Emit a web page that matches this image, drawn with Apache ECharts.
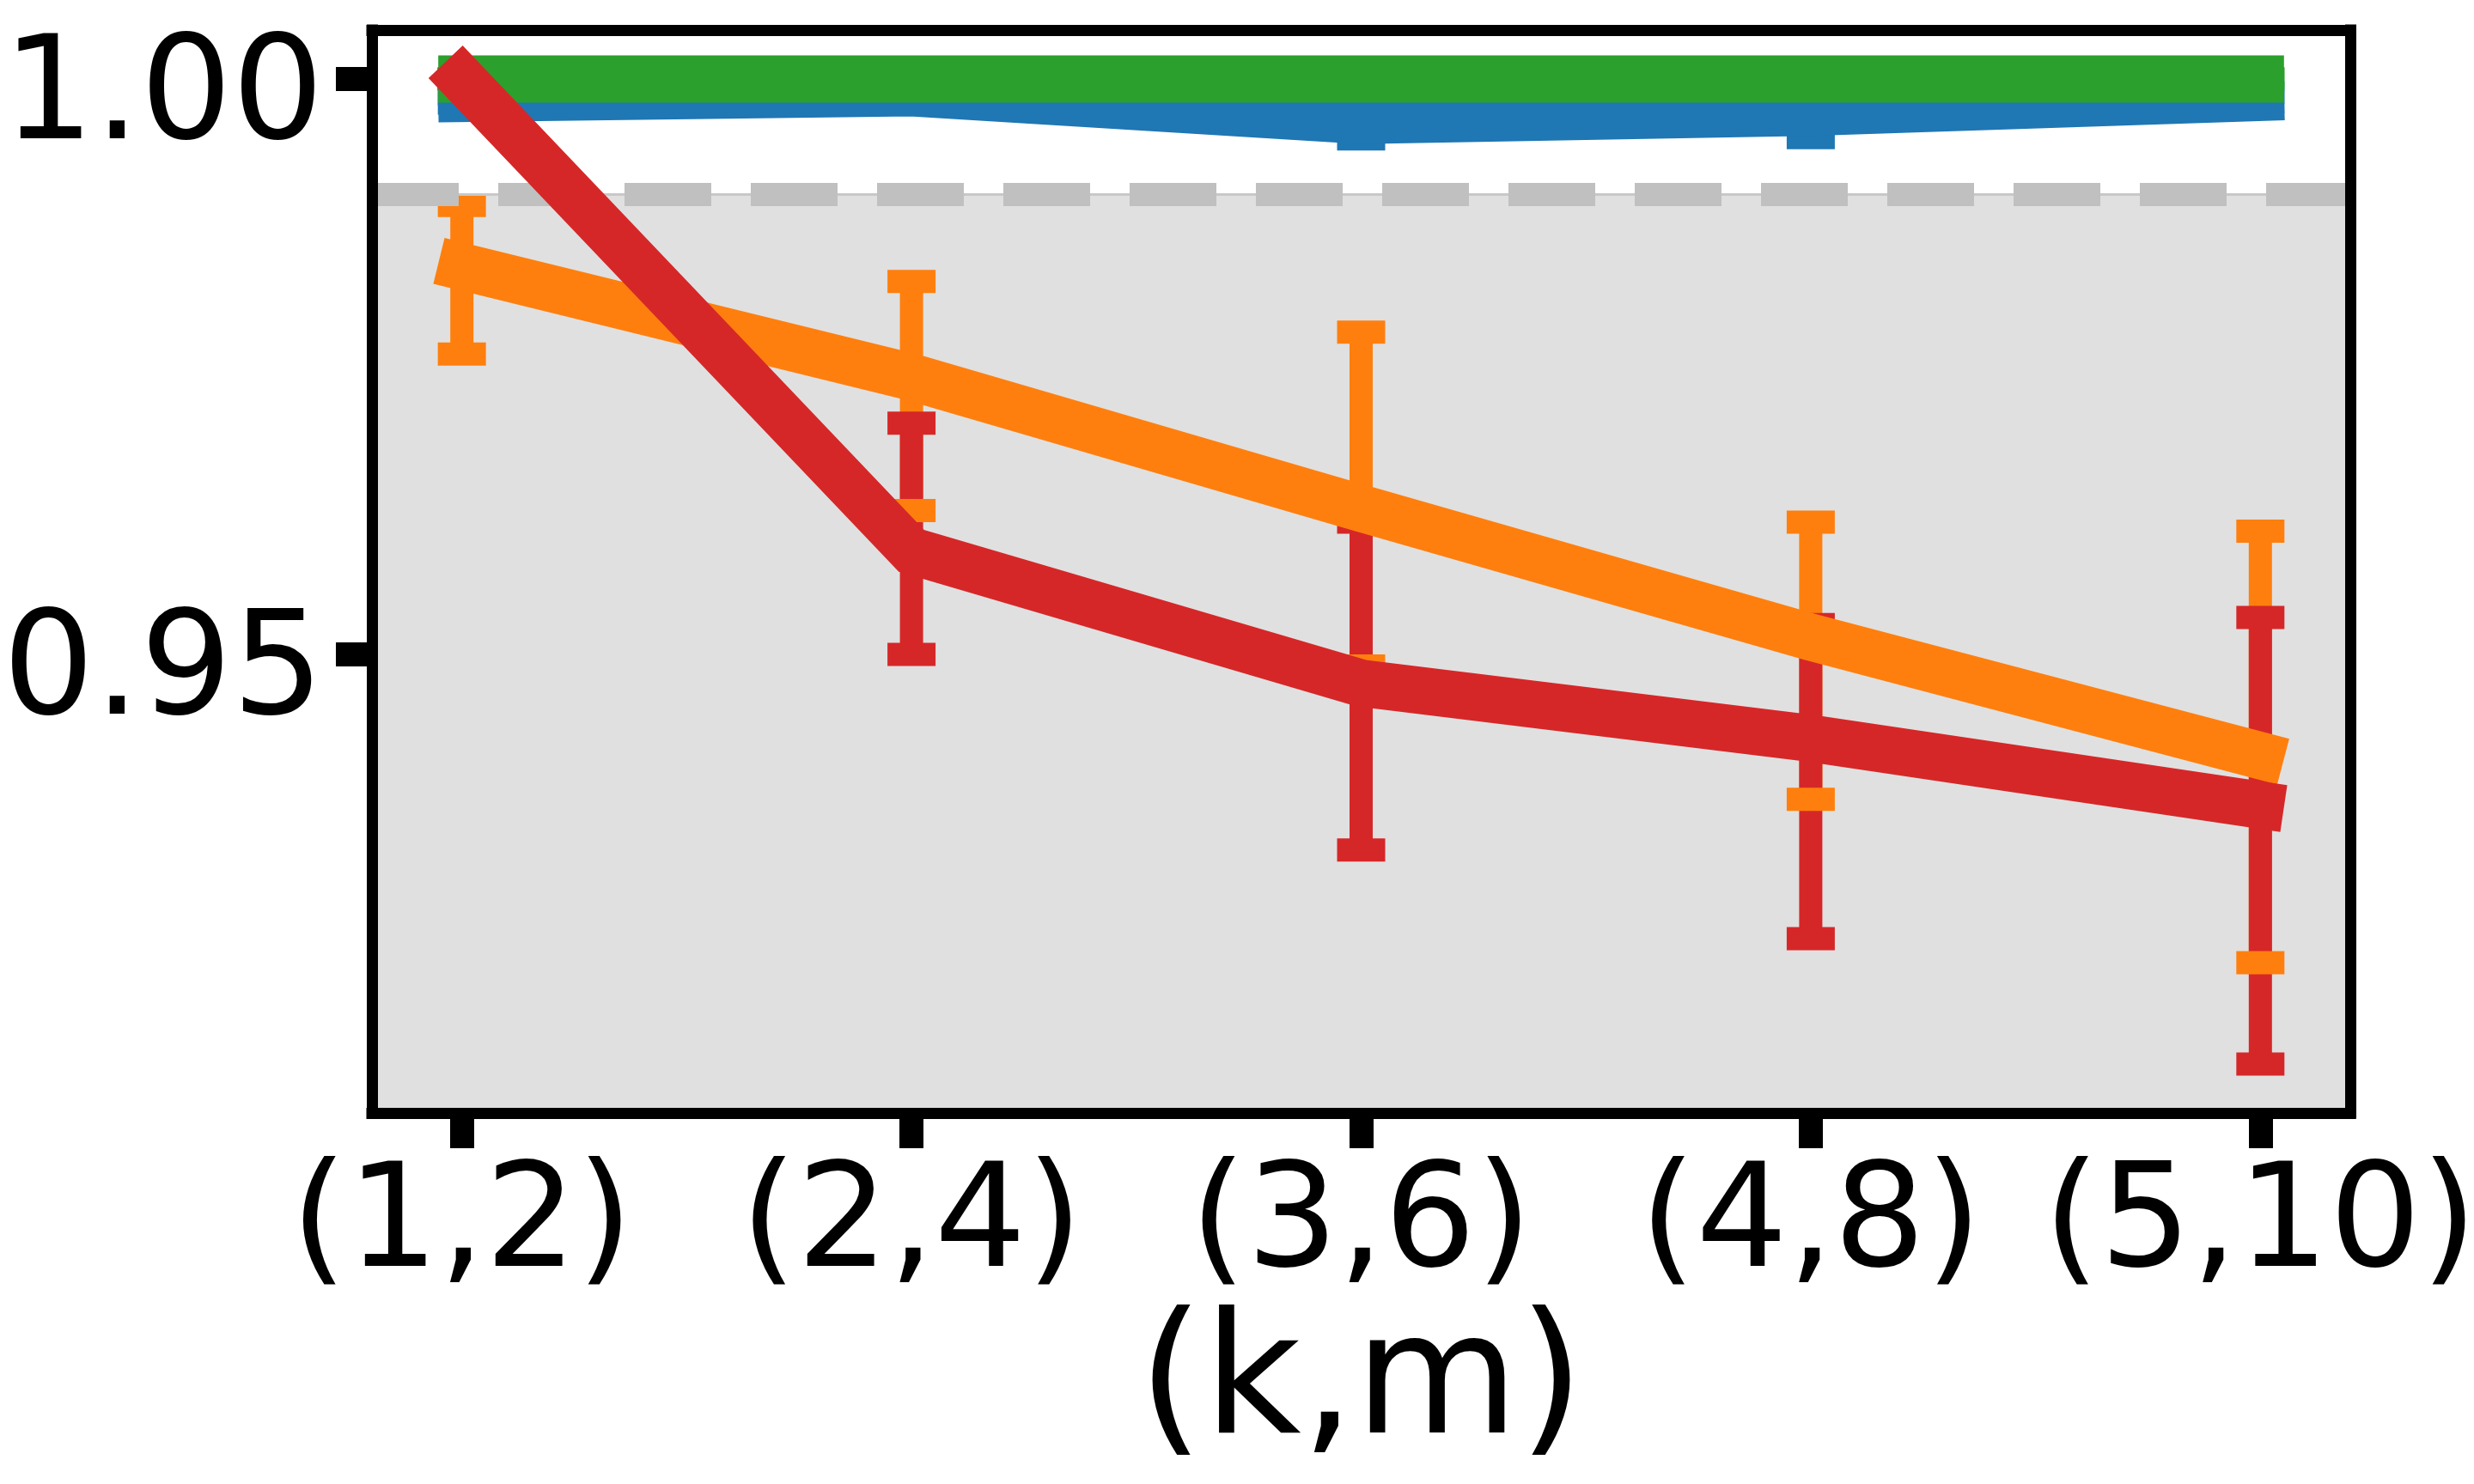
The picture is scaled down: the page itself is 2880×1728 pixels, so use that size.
<!DOCTYPE html>
<html>
<head>
<meta charset="utf-8">
<script src="https://cdn.jsdelivr.net/npm/echarts@6/dist/echarts.min.js"></script>
<style>
html,body{margin:0;padding:0;background:#fff;}
#chart{width:2880px;height:1728px;}
</style>
</head>
<body>
<div id="chart"></div>
<script>
// ---- data ----
const categories = ['(1,2)', '(2,4)', '(3,6)', '(4,8)', '(5,10)'];
const xPositions = [0, 1, 2, 3, 4];
const yTickValues = [0.95, 1.00];
const threshold = 0.99;

const blueMean  = [0.9983, 0.9988, 0.9964, 0.9971, 0.9984];
const blueLow   = [0.9979, 0.9984, 0.9948, 0.9949, 0.9980];
const blueHigh  = [0.9987, 0.9992, 0.9980, 0.9993, 0.9988];

const orangeMean = [0.9837, 0.9741, 0.9627, 0.9515, 0.9412];
const orangeLow  = [0.9761, 0.9625, 0.9490, 0.9374, 0.9232];
const orangeHigh = [0.9890, 0.9824, 0.9780, 0.9615, 0.9607];

const greenMean = [1.0000, 1.0000, 1.0000, 1.0000, 1.0000];
const greenLow  = [1.0000, 1.0000, 1.0000, 1.0000, 1.0000];
const greenHigh = [1.0000, 1.0000, 1.0000, 1.0000, 1.0000];

const redMean = [1.0000, 0.9590, 0.9475, 0.9427, 0.9369];
const redLow  = [1.0000, 0.9500, 0.9330, 0.9253, 0.9144];
const redHigh = [1.0000, 0.9701, 0.9615, 0.9526, 0.9532];

const Y_MIN = 0.91015;
const Y_MAX = 1.00425;
const X_MIN = -0.2;
const X_MAX = 4.2;

// ---- styles ----
const FONT = 'DejaVu Sans';
const LINE_W = 55;
const EBAR_W = 27;
const CAP_W = 56;
const CAP_H = 27;

const seriesDefs = [
  {name: 'blue',   color: '#1f77b4', mean: blueMean,   low: blueLow,   high: blueHigh,   z: 4},
  {name: 'orange', color: '#ff7f0e', mean: orangeMean, low: orangeLow, high: orangeHigh, z: 5},
  {name: 'green',  color: '#2ca02c', mean: greenMean,  low: greenLow,  high: greenHigh,  z: 6},
  {name: 'red',    color: '#d62728', mean: redMean,    low: redLow,    high: redHigh,    z: 7}
];

const chart = echarts.init(document.getElementById('chart'), null, {renderer: 'canvas'});

const series = [];

// background band + threshold lines
series.push({
  type: 'line',
  name: 'bg',
  data: [],
  z: 1,
  silent: true,
  markArea: {
    silent: true,
    itemStyle: {color: '#e0e0e0'},
    data: [[{yAxis: Y_MIN}, {yAxis: threshold}]]
  },
  markLine: {
    silent: true,
    symbol: 'none',
    label: {show: false},
    data: [
      {yAxis: threshold, lineStyle: {color: '#c8c8c8', width: 3, type: 'solid'}},
      {yAxis: threshold, lineStyle: {color: '#c0c0c0', width: 27, type: [101, 46], cap: 'butt'}}
    ]
  }
});

// error bar stems
seriesDefs.forEach(function (s) {
  series.push({
    type: 'custom',
    name: s.name + '-err',
    z: 2,
    silent: true,
    encode: {x: 0, y: [1, 2]},
    data: xPositions.map(function (x, i) { return [x, s.low[i], s.high[i]]; }),
    renderItem: function (params, api) {
      const x = api.value(0);
      const pLo = api.coord([x, api.value(1)]);
      const pHi = api.coord([x, api.value(2)]);
      return {
        type: 'line',
        shape: {x1: pLo[0], y1: pLo[1], x2: pHi[0], y2: pHi[1]},
        style: {stroke: s.color, lineWidth: EBAR_W, lineCap: 'butt'}
      };
    }
  });
});

// error bar caps
seriesDefs.forEach(function (s) {
  series.push({
    type: 'custom',
    name: s.name + '-cap',
    z: 3,
    silent: true,
    encode: {x: 0, y: [1, 2]},
    data: xPositions.map(function (x, i) { return [x, s.low[i], s.high[i]]; }),
    renderItem: function (params, api) {
      const x = api.value(0);
      const pLo = api.coord([x, api.value(1)]);
      const pHi = api.coord([x, api.value(2)]);
      return {
        type: 'group',
        children: [
          {type: 'rect', shape: {x: pLo[0] - CAP_W / 2, y: pLo[1] - CAP_H / 2, width: CAP_W, height: CAP_H}, style: {fill: s.color}},
          {type: 'rect', shape: {x: pHi[0] - CAP_W / 2, y: pHi[1] - CAP_H / 2, width: CAP_W, height: CAP_H}, style: {fill: s.color}}
        ]
      };
    }
  });
});

// main lines
seriesDefs.forEach(function (s) {
  series.push({
    type: 'line',
    name: s.name,
    z: s.z,
    silent: true,
    symbol: 'none',
    data: xPositions.map(function (x, i) { return [x, s.mean[i]]; }),
    lineStyle: {color: s.color, width: LINE_W, cap: 'square', join: 'miter'}
  });
});

const axisLineStyle = {color: '#000', width: 13, cap: 'square'};

const option = {
  animation: false,
  backgroundColor: '#fff',
  grid: {left: 433, right: 144, top: 35, bottom: 432, outerBoundsMode: 'none', containLabel: false},
  xAxis: [
    {
      type: 'value', position: 'bottom', min: X_MIN, max: X_MAX, z: 10,
      splitLine: {show: false},
      axisLine: {show: true, onZero: false, lineStyle: axisLineStyle},
      axisTick: {show: true, customValues: xPositions, length: 41, lineStyle: {color: '#000', width: 28}},
      axisLabel: {
        show: true, customValues: xPositions, margin: 50,
        formatter: function (v) { return categories[Math.round(v)]; },
        fontFamily: FONT, fontSize: 168, color: '#000'
      },
      name: '(k,m)', nameLocation: 'middle', nameGap: 221,
      nameTextStyle: {fontFamily: FONT, fontSize: 196, color: '#000'}
    },
    {
      type: 'value', position: 'top', min: X_MIN, max: X_MAX, z: 10,
      splitLine: {show: false},
      axisLine: {show: true, onZero: false, lineStyle: axisLineStyle},
      axisTick: {show: false}, axisLabel: {show: false}
    }
  ],
  yAxis: [
    {
      type: 'value', position: 'left', min: Y_MIN, max: Y_MAX, z: 10,
      splitLine: {show: false},
      axisLine: {show: true, onZero: false, lineStyle: axisLineStyle},
      axisTick: {show: true, customValues: yTickValues, length: 42, lineStyle: {color: '#000', width: 28}},
      axisLabel: {
        show: true, customValues: yTickValues, margin: 56,
        verticalAlign: 'top', lineHeight: 50,
        formatter: function (v) { return v.toFixed(2); },
        fontFamily: FONT, fontSize: 168, color: '#000'
      }
    },
    {
      type: 'value', position: 'right', min: Y_MIN, max: Y_MAX, z: 10,
      splitLine: {show: false},
      axisLine: {show: true, onZero: false, lineStyle: axisLineStyle},
      axisTick: {show: false}, axisLabel: {show: false}
    }
  ],
  series: series
};

chart.setOption(option);
</script>
</body>
</html>
